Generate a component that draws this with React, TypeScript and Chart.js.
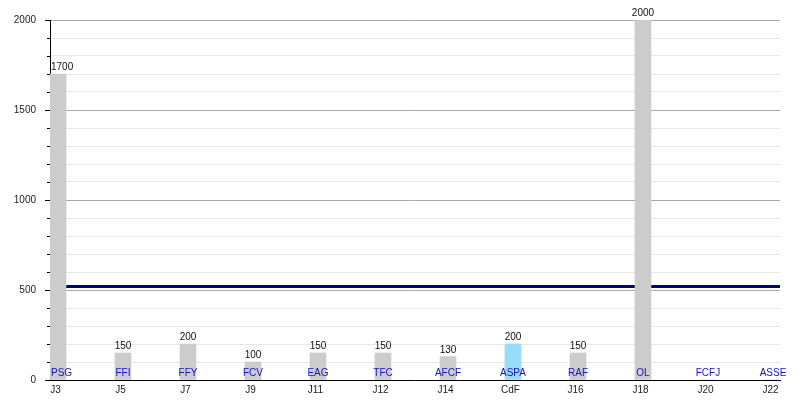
import React, { useEffect, useRef } from "react";
import { Chart, registerables } from "chart.js";

Chart.register(...registerables);

const rounds = ["J3", "J5", "J7", "J9", "J11", "J12", "J14", "CdF", "J16", "J18", "J20", "J22"];
const teams = ["PSG", "FFI", "FFY", "FCV", "EAG", "TFC", "AFCF", "ASPA", "RAF", "OL", "FCFJ", "ASSE"];
const values = [1700, 150, 200, 100, 150, 150, 130, 200, 150, 2000, 0, 0];
const highlighted = ["CdF"];
const averageValue = 520;
const yTickValues = [0, 500, 1000, 1500, 2000];

const FONT = "'Liberation Sans', Arial, Helvetica, sans-serif";

const labelsPlugin = {
  id: "barLabels",
  afterDatasetsDraw(chart: any) {
    const meta = chart.getDatasetMeta(1);
    const ctx = chart.ctx;
    const yScale = chart.scales.y;
    const base = yScale.getPixelForValue(0);
    const left = chart.chartArea.left + 1;
    ctx.save();
    ctx.font = `10px ${FONT}`;
    ctx.textAlign = "center";
    ctx.textBaseline = "alphabetic";
    const put = (text: string, x: number, y: number) => {
      const w = ctx.measureText(text).width;
      const cx = Math.max(x, left + w / 2);
      ctx.fillText(text, cx, y);
    };
    meta.data.forEach((el: any, i: number) => {
      const v = values[i];
      if (v > 0) {
        ctx.fillStyle = "#111111";
        put(String(v), el.x, el.y - 4);
      }
      ctx.fillStyle = "#1414c0";
      put(teams[i], el.x, base - 4);
    });
    ctx.restore();
  },
  afterDraw(chart: any) {
    const ctx = chart.ctx;
    const yScale = chart.scales.y;
    const x0 = chart.chartArea.left;
    ctx.save();
    ctx.strokeStyle = "#000000";
    ctx.lineWidth = 1;
    yScale.ticks.forEach((t: any) => {
      const y = Math.round(yScale.getPixelForValue(t.value)) + 0.5;
      const len = t.value % 500 === 0 ? 5 : 3;
      ctx.beginPath();
      ctx.moveTo(x0 - len, y);
      ctx.lineTo(x0, y);
      ctx.stroke();
    });
    ctx.restore();
  },
};

export default function App() {
  const ref = useRef<HTMLCanvasElement | null>(null);

  useEffect(() => {
    if (!ref.current) return;
    const chart = new Chart(ref.current, {
      type: "bar",
      data: {
        datasets: [
          {
            type: "line",
            data: [
              { x: -0.123, y: averageValue },
              { x: 11.108, y: averageValue },
            ],
            borderColor: "#000080",
            borderWidth: 3,
            pointRadius: 0,
            order: 2,
          } as any,
          {
            type: "bar",
            data: values.map((v, i) => ({ x: i, y: v })),
            backgroundColor: rounds.map((r) => (highlighted.includes(r) ? "#99dbfb" : "#cccccc")),
            barThickness: 16,
            order: 1,
          } as any,
        ],
      },
      options: {
        animation: false,
        responsive: false,
        layout: { padding: { top: 20, right: 20, left: 0, bottom: 0 } },
        plugins: { legend: { display: false }, tooltip: { enabled: false } },
        scales: {
          x: {
            type: "linear",
            offset: false,
            min: -0.123,
            max: 11.108,
            afterBuildTicks: (s: any) => {
              s.ticks = rounds.map((_, i) => ({ value: i }));
            },
            afterFit: (s: any) => {
              s.height = 20;
            },
            grid: { display: false, drawTicks: false, offset: false },
            border: { display: true, color: "#000000", width: 1 },
            ticks: {
              autoSkip: false,
              maxRotation: 0,
              padding: 4,
              labelOffset: -2.5,
              color: "#222222",
              font: { family: FONT, size: 10 },
              callback: (v: any) => rounds[v as number] ?? "",
            },
          },
          y: {
            min: 0,
            max: 2000,
            afterBuildTicks: (s: any) => {
              const t: any[] = [];
              for (let v = 0; v <= 2000; v += 100) t.push({ value: v });
              s.ticks = t;
            },
            afterFit: (s: any) => {
              s.width = 50;
            },
            grid: {
              color: (c: any) => (c.tick && c.tick.value % 500 === 0 ? "#aaaaaa" : "#e6e6e6"),
              tickLength: 5,
              tickColor: "rgba(0,0,0,0)",
            },
            border: { display: true, color: "#000000", width: 1 },
            ticks: {
              autoSkip: false,
              padding: 9,
              color: "#222222",
              font: { family: FONT, size: 10 },
              callback: (v: any) => (yTickValues.includes(v as number) ? String(v) : ""),
            },
          },
        },
      },
      plugins: [labelsPlugin],
    });
    return () => chart.destroy();
  }, []);

  return (
    <div style={{ position: "fixed", left: 0, top: 0, width: 800, height: 400, background: "#ffffff" }}>
      <canvas ref={ref} width={800} height={400} style={{ width: 800, height: 400 }} />
    </div>
  );
}
